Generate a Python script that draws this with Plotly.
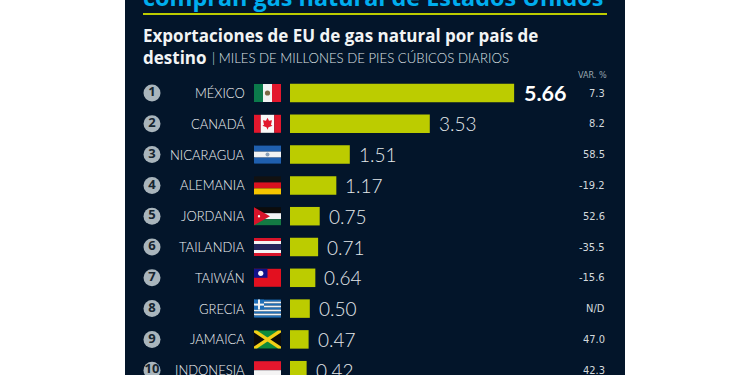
import plotly.graph_objects as go

countries = ["MÉXICO", "CANADÁ", "NICARAGUA", "ALEMANIA", "JORDANIA", "TAILANDIA", "TAIWÁN", "GRECIA", "JAMAICA", "INDONESIA"]
values = [5.66, 3.53, 1.51, 1.17, 0.75, 0.71, 0.64, 0.50, 0.47, 0.42]
value_labels = ["5.66", "3.53", "1.51", "1.17", "0.75", "0.71", "0.64", "0.50", "0.47", "0.42"]
variation = ["7.3", "8.2", "58.5", "-19.2", "52.6", "-35.5", "-15.6", "N/D", "47.0", "42.3"]
ranks = list(range(1, 11))

W, H = 750, 375
BG, LIME, WHITE = "#03152a", "#bccc00", "#f2f4f5"
X0, PXU = 290.0, 39.6
Y1, ROW = 93.0, 30.8
GREY = "#a9b5bc"

def ypx(r):
    return Y1 + (r - 1) * ROW

fig = go.Figure()
fig.add_bar(y=ranks, x=values, orientation="h", width=18.5 / ROW, marker=dict(color=LIME, line_width=0), hoverinfo="skip")
fig.add_scatter(x=[(152 - X0) / PXU] * 10, y=ranks, mode="markers+text", text=[str(r) for r in ranks],
                marker=dict(size=17, color=GREY, line=dict(width=0)),
                textfont=dict(family="Open Sans, sans-serif", size=13, color="#17252f", weight="bold"),
                textposition="middle center", hoverinfo="skip", cliponaxis=False)

ann = []
def text(xp, yp, s, size, color=WHITE, fam="Lato", anchor="left", weight="normal"):
    ann.append(dict(xref="paper", yref="paper", x=xp / W, y=1 - yp / H, text=s, showarrow=False,
                    xanchor=anchor, yanchor="middle", xshift=0, borderpad=0,
                    font=dict(family=fam, size=size, color=color, weight=weight)))

for r, c, v, lb, d in zip(ranks, countries, values, value_labels, variation):
    ann.append(dict(xref="paper", yref="y", x=247 / W, y=r, text=c, showarrow=False, xanchor="right", yanchor="middle",
                    font=dict(family="Lato Light, Lato", size=13, color=WHITE)))
    ann.append(dict(xref="x", yref="y", x=v, y=r, text=lb, showarrow=False, xanchor="left", yanchor="middle", xshift=7 if r > 1 else 8,
                    font=dict(family="Lato", size=21.5 if r == 1 else 19, color="#ffffff" if r == 1 else "#e4e8ea",
                              weight="bold" if r == 1 else 300)))
    ann.append(dict(xref="paper", yref="y", x=607 / W, y=r, text=d, showarrow=False, xanchor="right", yanchor="middle",
                    font=dict(family="DejaVu Sans Condensed, Liberation Sans", size=11, color="#d3d9dd")))

text(142, -3, "compran gas natural de Estados Unidos", 23.4, "#00aeef", "Open Sans", weight="bold")
text(142, 36, "Exportaciones de EU de gas natural por país de", 17, WHITE, "Open Sans", weight="bold")
text(142, 57, "destino", 17, WHITE, "Open Sans", weight="bold")
text(211, 58, "| MILES DE MILLONES DE PIES CÚBICOS DIARIOS", 13.2, "#dfe3e6", "Lato Light, Lato")
text(608, 75, "VAR. %", 9, "#9aa7af", "DejaVu Sans Condensed, Liberation Sans", anchor="right")

shapes = []
def rect(x0, y0, x1, y1, color, layer="above"):
    shapes.append(dict(type="rect", xref="paper", yref="paper", x0=x0 / W, x1=x1 / W, y0=1 - y0 / H, y1=1 - y1 / H,
                       fillcolor=color, line_width=0, layer=layer))
def poly(pts, color):
    path = "M" + "L".join(f"{x / W:.5f},{1 - y / H:.5f}" for x, y in pts) + "Z"
    shapes.append(dict(type="path", xref="paper", yref="paper", path=path, fillcolor=color, line_width=0, layer="above"))
def dot(cx, cy, rad, color):
    shapes.append(dict(type="circle", xref="paper", yref="paper", x0=(cx - rad) / W, x1=(cx + rad) / W,
                       y0=1 - (cy - rad) / H, y1=1 - (cy + rad) / H, fillcolor=color, line_width=0, layer="above"))

rect(125, 0, 625, H, BG, "below")
rect(143, 13, 607, 15, LIME, "below")

FX0, FX1, FH = 254, 281, 18
for r in ranks:
    yc = ypx(r); t = yc - FH / 2; b = yc + FH / 2; fw = FX1 - FX0
    def hs(cols, weights=None):
        weights = weights or [1] * len(cols)
        y = t
        for col, w in zip(cols, weights):
            nxt = y + FH * w / sum(weights)
            rect(FX0, y, FX1, nxt, col); y = nxt
    def vs(cols, weights=None):
        weights = weights or [1] * len(cols)
        x = FX0
        for col, w in zip(cols, weights):
            nxt = x + fw * w / sum(weights)
            rect(x, t, nxt, b, col); x = nxt
    mx = (FX0 + FX1) / 2
    if r == 1:
        vs(["#0b7a4b", "#f2f2f2", "#e3172d"]); dot(mx, yc, 2.6, "#7d6a45")
    elif r == 2:
        vs(["#e3172d", "#f8f8f8", "#e3172d"], [1, 2, 1])
        poly([(mx, yc - 6), (mx + 1.5, yc - 3), (mx + 4.5, yc - 3.5), (mx + 3.5, yc + 1), (mx + 5, yc + 2), (mx + 1, yc + 3.5),
              (mx, yc + 6), (mx - 1, yc + 3.5), (mx - 5, yc + 2), (mx - 3.5, yc + 1), (mx - 4.5, yc - 3.5), (mx - 1.5, yc - 3)], "#e3172d")
    elif r == 3:
        hs(["#1f5fae", "#f2f2f2", "#1f5fae"]); dot(mx, yc, 2, "#8aa0b8")
    elif r == 4:
        hs(["#111111", "#d9121f", "#f6c500"])
    elif r == 5:
        hs(["#0c0c0c", "#f4f4f4", "#137a43"])
        poly([(FX0, t), (FX0 + 16, yc), (FX0, b)], "#d8142a"); dot(FX0 + 5, yc, 1.2, "#f4f4f4")
    elif r == 6:
        hs(["#d8142a", "#f4f4f4", "#24265c", "#f4f4f4", "#d8142a"], [1, 1, 2, 1, 1])
    elif r == 7:
        rect(FX0, t, FX1, b, "#e3101f"); rect(FX0, t, mx, yc, "#12128a"); dot(FX0 + fw / 4, t + FH / 4, 2.6, "#f8f8f8")
    elif r == 8:
        hs(["#1f6fb8", "#f2f2f2"] * 4 + ["#1f6fb8"])
        rect(FX0, t, FX0 + 10, t + 10, "#1f6fb8")
        rect(FX0 + 4, t, FX0 + 6, t + 10, "#f2f2f2"); rect(FX0, t + 4, FX0 + 10, t + 6, "#f2f2f2")
    elif r == 9:
        rect(FX0, t, FX1, b, "#0b0b0b")
        poly([(FX0, t), (FX1, t), (mx, yc)], "#0f8a3c"); poly([(FX0, b), (FX1, b), (mx, yc)], "#0f8a3c")
        poly([(FX0, t), (FX0 + 3, t), (FX1, b - 2), (FX1, b), (FX1 - 3, b), (FX0, t + 2)], "#f3cf16")
        poly([(FX1 - 3, t), (FX1, t), (FX1, t + 2), (FX0 + 3, b), (FX0, b), (FX0, b - 2)], "#f3cf16")
    elif r == 10:
        hs(["#e3172d", "#f4f4f4"])

fig.update_layout(
    width=W, height=H, autosize=False, margin=dict(l=0, r=0, t=0, b=0), paper_bgcolor="#ffffff", plot_bgcolor="rgba(0,0,0,0)",
    showlegend=False, annotations=ann, shapes=shapes,
    xaxis=dict(range=[(0 - X0) / PXU, (W - X0) / PXU], visible=False, fixedrange=True),
    yaxis=dict(range=[1 + (H - Y1) / ROW, 1 - Y1 / ROW], visible=False, fixedrange=True),
)
fig.write_html("out.html", config=dict(displayModeBar=False), post_script="document.body.style.margin='0';")
